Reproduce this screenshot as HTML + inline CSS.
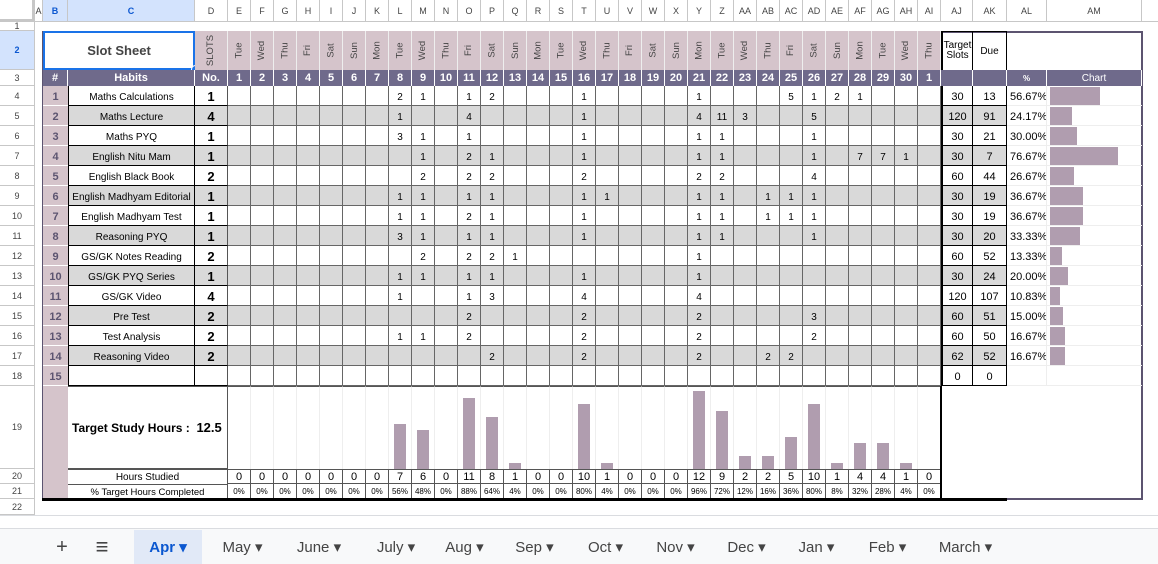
<!DOCTYPE html>
<html><head><meta charset="utf-8"><style>
body{margin:0;width:1158px;height:564px;overflow:hidden;background:#fff;font-family:"Liberation Sans",Arial,sans-serif;position:relative}
.c{position:absolute;box-sizing:border-box;display:flex;align-items:center;justify-content:center;white-space:nowrap;overflow:hidden;font-size:11px;color:#000}
.r{padding-top:3px}
</style></head><body>
<div id="root"></div>
<script>
const habits=["Maths Calculations","Maths Lecture","Maths PYQ","English Nitu Mam","English Black Book","English Madhyam Editorial","English Madhyam Test","Reasoning PYQ","GS/GK Notes Reading","GS/GK PYQ Series","GS/GK Video","Pre Test","Test Analysis","Reasoning Video"];
const slotNo=[1,4,1,1,2,1,1,1,2,1,4,2,2,2];
const entries=[
{8:2,9:1,11:1,12:2,16:1,21:1,25:5,26:1,27:2,28:1},
{8:1,11:4,16:1,21:4,22:11,23:3,26:5},
{8:3,9:1,11:1,16:1,21:1,22:1,26:1},
{9:1,11:2,12:1,16:1,21:1,22:1,26:1,28:7,29:7,30:1},
{9:2,11:2,12:2,16:2,21:2,22:2,26:4},
{8:1,9:1,11:1,12:1,16:1,17:1,21:1,22:1,24:1,25:1,26:1},
{8:1,9:1,11:2,12:1,16:1,21:1,22:1,24:1,25:1,26:1},
{8:3,9:1,11:1,12:1,16:1,21:1,22:1,26:1},
{9:2,11:2,12:2,13:1,21:1},
{8:1,9:1,11:1,12:1,16:1,21:1},
{8:1,11:1,12:3,16:4,21:4},
{11:2,16:2,21:2,26:3},
{8:1,9:1,11:2,16:2,21:2,26:2},
{12:2,16:2,21:2,24:2,25:2}];
const targetSlots=[30,120,30,30,60,30,30,30,60,30,120,60,60,62,0];
const dueSlots=[13,91,21,7,44,19,19,20,52,24,107,51,50,52,0];
const pctDone=[56.67,24.17,30.00,76.67,26.67,36.67,36.67,33.33,13.33,20.00,10.83,15.00,16.67,16.67];
const dayNames=["Tue","Wed","Thu","Fri","Sat","Sun","Mon"];
const dayNums=[1,2,3,4,5,6,7,8,9,10,11,12,13,14,15,16,17,18,19,20,21,22,23,24,25,26,27,28,29,30,1];
const hoursStudied=[0,0,0,0,0,0,0,7,6,0,11,8,1,0,0,10,1,0,0,0,12,9,2,2,5,10,1,4,4,1,0];
const pctHours=[0,0,0,0,0,0,0,56,48,0,88,64,4,0,0,80,4,0,0,0,96,72,12,16,36,80,8,32,28,4,0];
const targetHours=12.5;
const colLetters=["A","B","C","D","E","F","G","H","I","J","K","L","M","N","O","P","Q","R","S","T","U","V","W","X","Y","Z","AA","AB","AC","AD","AE","AF","AG","AH","AI","AJ","AK","AL","AM"];
const tabs=["May","June","July","Aug","Sep","Oct","Nov","Dec","Jan","Feb","March"];

const root=document.getElementById('root');
function mk(x,y,w,h,txt,st,name,inter){
  const el=document.createElement('div');
  el.className='c';
  el.style.cssText+=`left:${x}px;top:${y}px;width:${w}px;height:${h}px;`+(st||'');
  if(txt!==undefined&&txt!==null)el.textContent=txt;
  
  
  root.appendChild(el);return el;
}
const colX=[35,43,68,195,228];
for(let i=1;i<=30;i++)colX.push(228+23*i);
colX.push(941,973,1007,1047,1142,1158);
function dx(d){return 228+(d-1)*23;}
const rowY={1:22,2:31,3:70};
for(let r=4;r<=19;r++)rowY[r]=86+(r-4)*20;
rowY[20]=469;rowY[21]=484;rowY[22]=499;rowY[23]=515;
mk(0,0,1158,22,null,'background:#fff;border-bottom:1px solid #c7c7c7;','column-header-bar',false);
for(let i=0;i<colLetters.length;i++){
  const sel=(i==1||i==2);
  mk(colX[i],0,colX[i+1]-colX[i],22,colLetters[i],'border-right:1px solid #c7c7c7;border-bottom:1px solid #c7c7c7;'+(sel?'background:#d3e3fd;color:#0b57d0;font-weight:bold;':'color:#444;')+'font-size:9px;','column-header-'+colLetters[i].toLowerCase(),true);
}
mk(0,0,35,22,null,'border-right:3px solid #c7c7c7;border-bottom:3px solid #c7c7c7;','select-all-corner',true);
for(let r=1;r<=22;r++){
  const y=rowY[r],h=rowY[r+1]-y;
  mk(0,y,35,h,String(r),'border-right:1px solid #c7c7c7;border-bottom:1px solid #c7c7c7;font-size:9px;'+(r==2?'background:#d3e3fd;color:#0b57d0;font-weight:bold;':'color:#444;'),'row-header-'+r,true);
}
mk(0,515,1158,13,null,'background:#fff;border-top:1px solid #dadce0;','sheet-gap',false);
mk(0,528,1158,36,null,'background:#f8f9fa;border-top:1px solid #dadce0;','sheet-tab-bar',false);
mk(42,31,1101,469,null,'border:2px solid #5c5470;background:#fff;','tracker-frame',false);
mk(43,31,152,39,'Slot Sheet','border:2px solid #1a73e8;background:#fff;font-size:13px;font-weight:bold;color:#444;','slot-sheet-title',true);
mk(191,65,9,9,null,'border-radius:50%;background:#1a73e8;border:1px solid #fff;','selection-handle',true);
const rot='<span style="display:inline-block;transform:rotate(-90deg);font-size:9.5px;color:#444">';
let e=mk(195,31,33,39,null,'background:#d5c4cb;border-right:1px solid #eee;','slots-header',false);e.innerHTML=rot+'SLOTS</span>';
for(let d=1;d<=31;d++){
  e=mk(dx(d),31,23,39,null,'background:#d5c4cb;border-right:1px solid #eee;','day-name-'+d,false);
  e.innerHTML=rot+dayNames[(d-1)%7]+'</span>';
}
mk(941,31,32,39,null,'border:1px solid #000;border-width:1px 1px 0 2px;font-size:10px;line-height:10px;white-space:normal;text-align:center;','target-slots-header',false).innerHTML='Target<br>Slots';
mk(973,31,34,39,'Due','border:1px solid #000;border-width:1px 1px 0 0;font-size:10px;','due-header',false);
const H='background:#6f6a8b;color:#fff;font-weight:bold;border-right:1px solid #fff;';
mk(43,70,25,16,'#',H,'index-header',false);
mk(68,70,127,16,'Habits',H,'habits-header',false);
mk(195,70,33,16,'No.',H,'no-header',false);
for(let d=1;d<=31;d++)mk(dx(d),70,23,16,String(dayNums[d-1]),H,'day-number-'+d,false);
mk(941,70,32,16,'',H,'target-blank-header',false);
mk(973,70,34,16,'',H,'due-blank-header',false);
mk(1007,70,40,16,'%',H+'font-size:8px;','percent-header',false);
mk(1047,70,95,16,'Chart',H+'font-weight:normal;font-size:10px;','chart-header',false);
for(let k=0;k<15;k++){
  const y=86+k*20,bg=(k%2==1)?'#d9d9d9':'#fff';
  mk(43,y,25,20,String(k+1),'background:#d5c4cb;color:#5c5470;font-weight:bold;border-bottom:1px solid #fff;padding-top:2px;','row-index-'+(k+1),false);
  mk(68,y,127,20,k<14?habits[k]:'',`background:${bg};border:1px solid #000;border-width:0 1px 1px 1px;font-size:10px;padding-top:3px;`,'habit-name-'+(k+1),true);
  mk(195,y,33,20,k<14?String(slotNo[k]):'',`background:${bg};border-bottom:1px solid #000;border-right:1px solid #555;font-weight:bold;font-size:13px;padding-top:2px;`,'habit-slots-'+(k+1),true);
  for(let d=1;d<=31;d++){
    const v=k<14?entries[k][d]:undefined;
    mk(dx(d),y,23,20,v!==undefined?String(v):'',`background:${bg};border-right:1px solid #666;border-bottom:1px solid #666;font-size:10px;padding-top:3px;`,'entry-r'+(k+1)+'-d'+d,true);
  }
  mk(941,y,32,20,String(targetSlots[k]),`background:${bg};border:1px solid #000;border-width:0 1px 1px 2px;padding-top:2px;`,'target-slots-'+(k+1),true);
  mk(973,y,34,20,String(dueSlots[k]),`background:${bg};border:1px solid #000;border-width:0 1px 1px 0;padding-top:2px;`,'due-slots-'+(k+1),false);
  mk(1007,y,40,20,k<14?pctDone[k].toFixed(2)+'%':'','border-right:1px solid #eee;border-bottom:1px solid #eee;justify-content:flex-start;padding-left:3px;padding-top:2px;','percent-done-'+(k+1),false);
  mk(1047,y,95,20,null,'border-bottom:1px solid #eee;','chart-cell-'+(k+1),false);
  if(k<14)mk(1050,y+1,pctDone[k]/100*89,18,null,'background:#b09daf;','progress-bar-'+(k+1),false);
}
mk(43,386,25,113,null,'background:#d5c4cb;','summary-index-cell',false);
e=mk(68,386,160,83,null,'border:1px solid #555;border-width:1px 1px 1px 0;justify-content:flex-start;padding-left:4px;font-weight:bold;font-size:12px;','target-study-hours',false);
e.innerHTML='Target Study Hours :&nbsp;&nbsp;<span style="font-size:13px">'+targetHours+'</span>';
for(let d=1;d<=31;d++){
  mk(dx(d),386,23,83,null,'border-right:1px solid #eee;border-top:1px solid #555;','bar-cell-'+d,false);
  const hgt=hoursStudied[d-1]*6.5;
  if(hgt>0)mk(dx(d)+5,469-hgt,12,hgt,null,'background:#b09daf;','hours-bar-day-'+d,false);
  mk(dx(d),469,23,15,String(hoursStudied[d-1]),'border:1px solid #555;border-width:1px 1px 1px 0;padding-top:1px;','hours-studied-'+d,false);
  mk(dx(d),484,23,15,pctHours[d-1]+'%','border-right:1px solid #555;font-size:8px;','pct-hours-'+d,false);
}
mk(940,386,2,113,null,'background:#000;','summary-right-border',false);
mk(68,469,160,15,'Hours Studied','border-right:1px solid #555;border-top:1px solid #555;font-size:10px;padding-top:1px;','hours-studied-label',false);
mk(68,484,160,15,'% Target Hours Completed','border-right:1px solid #555;border-top:1px solid #555;font-size:9.5px;','pct-target-label',false);
mk(42,498,965,3,null,'background:#000;','bottom-thick-border',false);
mk(46,530,32,34,'+','font-size:20px;color:#444;','add-sheet-button',true);
mk(86,530,32,34,'≡','font-size:22px;color:#444;','all-sheets-button',true);
mk(134,530,68,34,'Apr ▾','background:#e1e9f7;color:#0b57d0;font-weight:bold;font-size:15px;','tab-apr',true);
const tabX=[215,287,364,437,507,578,648,719,789,860,929];
for(let i=0;i<tabs.length;i++){
  mk(tabX[i],530,tabs[i].length*9+28,34,tabs[i]+' ▾','color:#444;font-size:15px;','tab-'+tabs[i].toLowerCase(),true);
}
</script>
</body></html>
